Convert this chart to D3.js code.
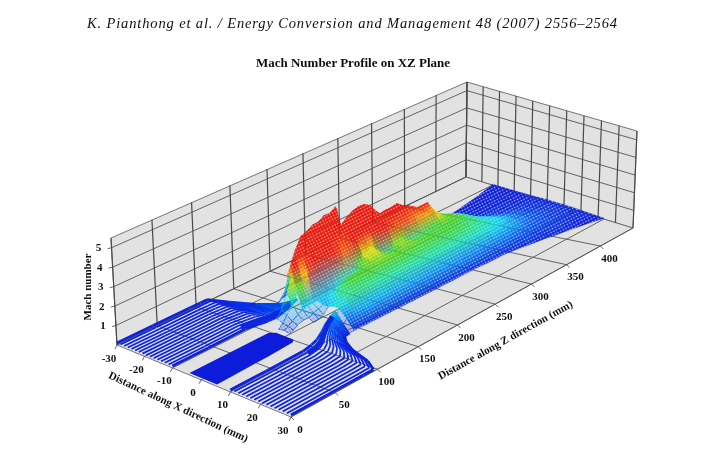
<!DOCTYPE html>
<html>
<head>
<meta charset="utf-8">
<script src="https://cdn.jsdelivr.net/npm/d3@7"></script>
<style>
  html, body { margin: 0; padding: 0; background: #fff; }
  text { font-family: "Liberation Serif", serif; fill: #111; }
  .tick { font-size: 11px; font-weight: bold; text-anchor: middle; dominant-baseline: middle; }
  .label { font-size: 11px; font-weight: bold; text-anchor: middle; }
</style>
</head>
<body>
<svg id="chart" width="711" height="452"></svg>
<script>
const headerText = "K. Pianthong et al. / Energy Conversion and Management 48 (2007) 2556–2564";
const titleText = "Mach Number Profile on XZ Plane";

const xTicks = [-30, -20, -10, 0, 10, 20, 30];
const zTicks = [0, 50, 100, 150, 200, 250, 300, 350, 400];
const machTicks = [1, 2, 3, 4, 5];
const wallXGrid = [-30, -24, -18, -12, -6, 0, 6, 12, 18, 24, 30];
const wallZGrid = [0, 45, 90, 135, 180, 225, 270, 315, 360, 405, 450];

// inlet channels
const channelZ = [0, 40, 83, 95, 103, 110, 117, 124, 130];
const upperOuter = [-30, -30, -30, -30, -30, -24, -16.3, -10, -8];
const upperInner = [-10, -10, -10, -9, -8, -7, -6.5, -6, -5.5];
const lowerOuter = [30, 30, 30, 30, 26, 19, 15, 12.5, 12.5];
const lowerInner = [10, 10, 10, 9.5, 9, 8.6, 8.3, 8.1, 8];
const upperInnerMach = [0.1, 0.1, 0.12, 0.15, 0.2, 0.3, 0.45, 0.7, 0.9];
const upperOuterMach = [0.1, 0.1, 0.1, 0.1, 0.1, 0.15, 0.3, 0.5, 0.6];
const lowerInnerMach = [0.1, 0.1, 0.12, 0.15, 0.2, 0.4, 0.7, 0.9, 1];
const lowerOuterMach = [0.1, 0.1, 0.1, 0.1, 0.1, 0.1, 0.1, 0.12, 0.15];
const channelRows = d3.range(16);
const centreZ = [0, 60, 90, 94];
const centreLow = [-4, -4, -4, -2.5];
const centreHigh = [5.5, 5, 4.5, 3.5];

// mixing duct: one row of Mach numbers per z station, columns go across the duct
const ductZ = [95, 100, 105, 112, 118, 124, 130, 136, 143, 150, 158, 165, 172, 180, 186, 192, 200, 208, 216, 224, 232, 240, 250, 259, 268, 279, 293, 305, 318, 330, 345, 360, 375, 390, 405, 420, 435, 450];
const ductHalf = [12.4, 12.4, 12.4, 12.4, 12.4, 12.4, 12.4, 12.5, 12.5, 12.6, 12.6, 12.7, 12.7, 12.8, 12.8, 12.9, 12.9, 13, 13, 13.1, 13.1, 13.2, 13.2, 13.3, 13.3, 13.3, 13.4, 13.4, 13.5, 13.5, 14.2, 14.9, 15.6, 16.4, 17.2, 18, 18.9, 20];
const ductCols = [-1, -0.8, -0.6, -0.45, -0.3, -0.15, 0, 0.15, 0.3, 0.45, 0.6, 0.8, 1];
const sparseBelow = 1.3;
const _ = null;
const ductMach = [
  [_, _, _, _, _, 0.3, 0.35, 0.3, _, _, _, _, _],
  [_, _, _, _, 0.6, 0.5, 0.45, 0.35, _, _, _, _, _],
  [_, _, _, _, 1, 0.8, 0.6, 0.5, _, _, _, _, _],
  [_, _, _, _, 1.7, 1.2, 0.8, 0.6, _, _, _, _, _],
  [_, _, _, 2.3, 2.6, 1.7, 0.9, 0.6, 0.45, _, _, _, _],
  [_, _, _, 2.8, 3.2, 2.2, 1, 0.7, 0.5, _, 0.3, 0.3, 0.2],
  [0.3, 1, 2.6, 3.2, 3.6, 2.6, 1, 0.8, 0.6, _, 0.6, 0.4, 0.15],
  [0.4, 1.6, 3.2, 3.7, 3.9, 2.9, 1, 0.9, 0.9, 1, 1, 0.6, 0.15],
  [0.5, 2, 3.8, 4.1, 4.2, 3, 1, 1, 1.2, 1.4, 1.4, 0.8, 0.15],
  [0.5, 2.1, 3.9, 4.2, 4, 3, 1, 1.2, 1.5, 1.7, 1.6, 0.85, 0.15],
  [0.5, 2.1, 4.1, 4.2, 3.9, 2.9, 1.1, 1.5, 1.8, 1.8, 1.6, 0.9, 0.15],
  [0.5, 2.3, 4.1, 4.4, 3.7, 2.8, 1.3, 1.7, 1.9, 1.85, 1.6, 0.9, 0.15],
  [0.5, 2.3, 4.3, 4.5, 3.7, 2.7, 1.2, 1.7, 1.9, 1.85, 1.55, 0.9, 0.15],
  [0.5, 2.3, 3.9, 4.7, 3.6, 2.6, 1.2, 1.7, 1.9, 1.85, 1.5, 0.9, 0.15],
  [0.5, 2.2, 3.3, 3.6, 3.3, 2.8, 1.6, 1.9, 1.95, 1.8, 1.5, 0.9, 0.15],
  [0.5, 2.2, 3.3, 3.7, 3.3, 3, 2.1, 2.1, 2, 1.8, 1.5, 0.85, 0.15],
  [0.5, 2.2, 3.6, 3.8, 3.5, 3.1, 2.3, 2.2, 2, 1.8, 1.45, 0.85, 0.15],
  [0.5, 2.2, 3.8, 4, 3.7, 3.1, 2.2, 2.1, 2, 1.8, 1.45, 0.85, 0.15],
  [0.5, 2.2, 3.9, 4.1, 3.7, 2.9, 1.5, 1.9, 1.95, 1.8, 1.45, 0.85, 0.15],
  [0.5, 2.1, 3.6, 3.9, 3.5, 2.8, 1.4, 1.8, 1.95, 1.8, 1.45, 0.85, 0.15],
  [0.5, 2, 3.2, 3.4, 3.2, 2.8, 1.8, 2, 1.95, 1.75, 1.4, 0.8, 0.15],
  [0.5, 1.9, 2.9, 3.1, 3, 2.7, 2.2, 2.1, 1.95, 1.75, 1.4, 0.8, 0.15],
  [0.5, 1.9, 3, 3.2, 3.2, 2.7, 1.7, 1.9, 1.95, 1.7, 1.4, 0.8, 0.15],
  [0.5, 1.9, 3, 3.3, 3.3, 2.7, 1.5, 1.8, 1.9, 1.7, 1.4, 0.8, 0.15],
  [0.4, 1.8, 2.7, 3, 3.1, 2.6, 1.8, 1.9, 1.9, 1.7, 1.4, 0.8, 0.15],
  [0.4, 1.6, 2.2, 2.6, 2.8, 2.5, 1.6, 1.8, 1.85, 1.7, 1.35, 0.8, 0.15],
  [0.4, 1.5, 1.9, 2.2, 2.8, 2.5, 2, 1.9, 1.85, 1.7, 1.35, 0.75, 0.15],
  [0.3, 1, 1.3, 1.6, 1.9, 2, 2, 1.9, 1.8, 1.65, 1.3, 0.75, 0.12],
  [0.2, 0.5, 0.8, 1.2, 1.6, 1.8, 1.85, 1.75, 1.65, 1.5, 1.25, 0.7, 0.12],
  [0.1, 0.25, 0.6, 1, 1.4, 1.55, 1.6, 1.55, 1.5, 1.4, 1.2, 0.7, 0.12],
  [0.1, 0.15, 0.35, 0.6, 0.9, 1.1, 1.2, 1.2, 1.2, 1.15, 1, 0.6, 0.12],
  [0.08, 0.12, 0.2, 0.3, 0.5, 0.75, 0.9, 1, 1.05, 1, 0.85, 0.5, 0.1],
  [0.08, 0.1, 0.15, 0.2, 0.32, 0.5, 0.65, 0.75, 0.8, 0.75, 0.65, 0.4, 0.1],
  [0.06, 0.08, 0.12, 0.15, 0.25, 0.35, 0.48, 0.58, 0.6, 0.58, 0.5, 0.32, 0.08],
  [0.05, 0.06, 0.1, 0.12, 0.18, 0.25, 0.35, 0.42, 0.45, 0.45, 0.4, 0.25, 0.08],
  [0.05, 0.05, 0.08, 0.1, 0.12, 0.18, 0.25, 0.3, 0.32, 0.32, 0.28, 0.18, 0.06],
  [0.05, 0.05, 0.06, 0.08, 0.1, 0.12, 0.16, 0.2, 0.22, 0.22, 0.18, 0.12, 0.05],
  [0.05, 0.05, 0.06, 0.07, 0.08, 0.1, 0.12, 0.12, 0.12, 0.12, 0.1, 0.08, 0.05]
];

const machStops = [0, 0.5, 1.1, 1.5, 1.9, 2.25, 2.55, 2.8];
const machColors = ["#0a14d8", "#0550f0", "#08d8f0", "#20e090", "#40d020", "#e8e000", "#ff8000", "#ee1408"];

const color = d3.scaleLinear().domain(machStops).range(machColors).clamp(true);
const xScale = d3.scaleLinear().domain([-30, 30]).range([0, 1]);
const zScale = d3.scaleLinear().domain([0, 450]).range([0, 1]);
const mScale = d3.scaleLinear().domain([0, 5.5]).range([0, 1]);

// corners of the box on screen, front-left / front-right / back-right / back-left
const floorBox = [[117, 345], [291, 417], [633, 228], [466, 177]];
const topBox = [[111, 238], [289, 305], [637, 131], [467, 82]];

const persp = (() => {
    const [p0, p1, p2, p3] = floorBox;
    const dx1 = p1[0] - p2[0], dx2 = p3[0] - p2[0], sx = p0[0] - p1[0] + p2[0] - p3[0];
    const dy1 = p1[1] - p2[1], dy2 = p3[1] - p2[1], sy = p0[1] - p1[1] + p2[1] - p3[1];
    const den = dx1 * dy2 - dx2 * dy1;
    const g = (sx * dy2 - dx2 * sy) / den;
    const h = (dx1 * sy - sx * dy1) / den;
    return {
        g, h,
        a: p1[0] - p0[0] + g * p1[0], b: p3[0] - p0[0] + h * p3[0], c: p0[0],
        d: p1[1] - p0[1] + g * p1[1], e: p3[1] - p0[1] + h * p3[1], f: p0[1]
    };
})();

const project = (x, z, m = 0) => {
    const u = xScale(x), v = zScale(z), t = mScale(m);
    const w = persp.g * u + persp.h * v + 1;
    const fx = (persp.a * u + persp.b * v + persp.c) / w;
    const fy = (persp.d * u + persp.e * v + persp.f) / w;
    const up = (i) => {
        const near = (topBox[0][i] - floorBox[0][i]) * (1 - u) + (topBox[1][i] - floorBox[1][i]) * u;
        const far = (topBox[3][i] - floorBox[3][i]) * (1 - u) + (topBox[2][i] - floorBox[2][i]) * u;
        return near * (1 - v) + far * v;
    };
    return [fx + up(0) * t, fy + up(1) * t];
};

const lineGen = d3.line();
const svg = d3.select("#chart");
const defs = svg.append("defs");

defs.append("filter").attr("id", "soft").attr("x", "-2%").attr("y", "-2%").attr("width", "104%").attr("height", "104%")
    .append("feGaussianBlur").attr("stdDeviation", 0.4);

// speckle mask, the surface in the picture is a cloud of dots
const dots = defs.append("pattern").attr("id", "dots").attr("patternUnits", "userSpaceOnUse")
    .attr("width", 3).attr("height", 3).attr("patternTransform", "rotate(-27)");
dots.append("rect").attr("width", 3).attr("height", 3).attr("fill", "#fff");
dots.append("circle").attr("cx", 1.5).attr("cy", 1.5).attr("r", 0.8).attr("fill", "#222");
defs.append("mask").attr("id", "speckle").attr("maskUnits", "userSpaceOnUse")
    .attr("x", 0).attr("y", 0).attr("width", 711).attr("height", 452)
    .append("rect").attr("width", 711).attr("height", 452).attr("fill", "url(#dots)");

const root = svg.append("g").attr("filter", "url(#soft)");

root.append("text").attr("x", 87).attr("y", 28)
    .attr("textLength", 530).attr("lengthAdjust", "spacing")
    .style("font-size", "14.5px").style("font-style", "italic").text(headerText);
root.append("text").attr("x", 353).attr("y", 67)
    .style("font-size", "13px").style("font-weight", "bold").style("text-anchor", "middle").text(titleText);

// walls and floor
const leftWall = [project(-30, 0), project(-30, 450), project(-30, 450, 5.5), project(-30, 0, 5.5)];
const backWall = [project(-30, 450), project(30, 450), project(30, 450, 5.5), project(-30, 450, 5.5)];
const floor = [project(-30, 0), project(30, 0), project(30, 450), project(-30, 450)];
root.selectAll(".pane").data([leftWall, backWall, floor]).join("path")
    .attr("class", "pane")
    .attr("d", d => lineGen(d) + "Z")
    .attr("fill", "#e2e2e2").attr("stroke", "#666").attr("stroke-width", 0.9);

const gridLines = [];
machTicks.forEach(m => {
    gridLines.push([project(-30, 0, m), project(-30, 450, m), project(30, 450, m)]);
});
zTicks.slice(1).forEach((z, i) => gridLines.push([project(-30, wallZGrid[i + 1]), project(30, z)]));
xTicks.forEach(x => gridLines.push([project(x, 0), project(x, 450)]));
root.selectAll(".grid").data(gridLines).join("path")
    .attr("class", "grid")
    .attr("d", lineGen)
    .attr("fill", "none").attr("stroke", "#555").attr("stroke-width", 0.9);

const wallLines = wallZGrid.map(z => [project(-30, z), project(-30, z, 5.5)])
    .concat(wallXGrid.map(x => [project(x, 450), project(x, 450, 5.5)]));
root.selectAll(".wallgrid").data(wallLines).join("path")
    .attr("class", "wallgrid")
    .attr("d", lineGen)
    .attr("fill", "none").attr("stroke", "#4a4a4a").attr("stroke-width", 1.2);

// ticks
const tickLines = [];
xTicks.forEach(x => {
    const p = project(x, 0);
    tickLines.push([p, [p[0] - 2, p[1] + 4]]);
});
zTicks.forEach(z => {
    const p = project(30, z);
    tickLines.push([p, [p[0] + 3, p[1] + 3]]);
});
machTicks.forEach(m => {
    const p = project(-30, 0, m);
    tickLines.push([p, [p[0] - 4, p[1] + 1]]);
});
root.selectAll(".tickmark").data(tickLines).join("path")
    .attr("class", "tickmark").attr("d", lineGen)
    .attr("fill", "none").attr("stroke", "#444").attr("stroke-width", 0.8);

root.selectAll(".mlab").data(machTicks).join("text")
    .attr("class", "tick mlab").text(d => d)
    .attr("x", d => project(-30, 0, d)[0] - 13)
    .attr("y", d => project(-30, 0, d)[1] + 1);
root.selectAll(".xlab").data(xTicks).join("text")
    .attr("class", "tick xlab").text(d => d)
    .attr("x", d => project(d, 0)[0] - 8)
    .attr("y", d => project(d, 0)[1] + 14);
root.selectAll(".zlab").data(zTicks).join("text")
    .attr("class", "tick zlab").text(d => d)
    .attr("x", d => project(30, d)[0] + 9)
    .attr("y", d => project(30, d)[1] + 13);

root.append("text").attr("class", "label").attr("transform", "translate(91,287) rotate(-90)").text("Mach number");
root.append("text").attr("class", "label").attr("transform", "translate(177,410) rotate(25)").text("Distance along X direction (mm)");
root.append("text").attr("class", "label").attr("transform", "translate(507,343) rotate(-29)").text("Distance along Z direction (mm)");

// inlet channels
const drawChannel = (outer, inner, machOut, machIn, name) => {
    const rows = channelRows.map(r => {
        const t = r / (channelRows.length - 1);
        return channelZ.map((z, i) => {
            const m = machIn[i] + (machOut[i] - machIn[i]) * t;
            return { p: project(inner[i] + (outer[i] - inner[i]) * t, z, m), m };
        });
    });
    const segs = [];
    rows.forEach((row, r) => {
        d3.pairs(row).forEach(([a, b]) => {
            segs.push({
                pts: [a.p, b.p],
                m: (a.m + b.m) / 2,
                w: (r === 0 || r === rows.length - 1) ? 2.8 : 1.7
            });
        });
    });
    root.append("g").attr("class", name).selectAll("path").data(segs).join("path")
        .attr("d", d => lineGen(d.pts))
        .attr("fill", "none")
        .attr("stroke", d => color(d.m))
        .attr("stroke-width", d => d.w);

    // heavy part along the inner wall behind the step
    const strip = channelZ.map((z, i) => project(inner[i] + (outer[i] - inner[i]) * 0.08, z, machIn[i])).slice(2, 8);
    root.append("path").attr("d", lineGen(strip))
        .attr("fill", "none").attr("stroke", color(0.15)).attr("stroke-width", 5);
};
drawChannel(upperOuter, upperInner, upperOuterMach, upperInnerMach, "upper");
drawChannel(lowerOuter, lowerInner, lowerOuterMach, lowerInnerMach, "lower");

const centre = centreZ.map((z, i) => project(centreLow[i], z, 0.1))
    .concat(centreZ.map((z, i) => project(centreHigh[i], z, 0.1)).reverse());
root.append("path").attr("d", lineGen(centre) + "Z").attr("fill", color(0.05));

// mixing duct quads, painted from the far end of the floor to the near end
const surface = root.append("g").attr("mask", "url(#speckle)");

const duct = ductMach.map((row, i) => row.map((m, j) => {
    if (m === null) return null;
    const x = ductCols[j] * ductHalf[i];
    return { m, z: ductZ[i], p: project(x, ductZ[i], m), floorY: project(x, ductZ[i])[1] };
}));

const quads = [];
d3.pairs(duct).forEach(([r0, r1]) => {
    d3.range(ductCols.length - 1).forEach(j => {
        const c = [r0[j], r0[j + 1], r1[j + 1], r1[j]];
        if (c.some(d => d === null)) return;
        quads.push({
            id: "q" + quads.length,
            c,
            z: d3.mean(c, d => d.z),
            m: d3.mean(c, d => d.m),
            depth: d3.mean(c, d => d.floorY),
            from: [(c[0].p[0] + c[3].p[0]) / 2, (c[0].p[1] + c[3].p[1]) / 2],
            to: [(c[1].p[0] + c[2].p[0]) / 2, (c[1].p[1] + c[2].p[1]) / 2],
            m0: (c[0].m + c[3].m) / 2,
            m1: (c[1].m + c[2].m) / 2
        });
    });
});
quads.sort((a, b) => d3.ascending(a.depth, b.depth));

const grads = defs.selectAll(".qg").data(quads).join("linearGradient")
    .attr("class", "qg")
    .attr("id", d => d.id)
    .attr("gradientUnits", "userSpaceOnUse")
    .attr("x1", d => d.from[0]).attr("y1", d => d.from[1])
    .attr("x2", d => d.to[0]).attr("y2", d => d.to[1]);
grads.append("stop").attr("offset", 0).attr("stop-color", d => color(d.m0));
grads.append("stop").attr("offset", 1).attr("stop-color", d => color(d.m1));

const isSparse = d => d.z < 136 && d.m < sparseBelow;
surface.append("g").attr("class", "duct").selectAll("path").data(quads).join("path")
    .attr("d", d => lineGen(d.c.map(k => k.p)) + "Z")
    .attr("fill", d => `url(#${d.id})`)
    .attr("fill-opacity", d => isSparse(d) ? 0.3 : 1)
    .attr("stroke", d => `url(#${d.id})`)
    .attr("stroke-width", d => isSparse(d) ? 0.8 : 0.5);
</script>
</body>
</html>
